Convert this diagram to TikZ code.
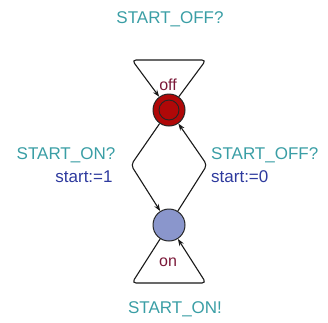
\documentclass[tikz,border=0pt]{standalone}
\usepackage{fontspec}
\setmainfont{Liberation Sans}
\usetikzlibrary{arrows.meta}
\definecolor{synccol}{HTML}{3A9EA5}
\definecolor{asgcol}{HTML}{2E3A9E}
\definecolor{namecol}{HTML}{7A1838}
\definecolor{offfill}{HTML}{B00808}
\definecolor{onfill}{HTML}{8A96CC}
\tikzset{
  loc/.style={circle, draw=black!85, line width=1pt, minimum size=32pt, inner sep=0pt},
  edge/.style={draw=black!90, line width=1.1pt, rounded corners=4pt, -{Stealth[length=7pt,width=5pt]}},
  sync/.style={text=synccol, font=\fontsize{17}{20}\selectfont, inner sep=0pt},
  asg/.style={text=asgcol, font=\fontsize{17}{20}\selectfont, inner sep=0pt},
  lname/.style={text=namecol, font=\fontsize{16}{19}\selectfont, inner sep=0pt},
}
\begin{document}
\begin{tikzpicture}[x=1pt,y=-1pt]
\useasboundingbox (0,0) rectangle (328,322);
\node[loc, fill=offfill] (off) at (169,110) {};
\draw[black!85, line width=0.9pt] (off.center) circle (10pt);
\node[loc, fill=onfill] (on) at (169,225) {};
% loop on off
\coordinate (otr) at (206,60);
\coordinate (otl) at (132,60);
\draw[edge] (off) -- (otr) -- (otl) -- (off);
% loop on on
\coordinate (nbl) at (132,283);
\coordinate (nbr) at (206,283);
\draw[edge] (on) -- (nbl) -- (nbr) -- (on);
% off -> on
\coordinate (lc) at (131,165);
\draw[edge] (off) -- (lc) -- (on);
% on -> off
\coordinate (rc) at (207,165);
\draw[edge] (on) -- (rc) -- (off);
% labels
\node[lname] (offname) at (168,85) {off};
\node[lname] (onname) at (168,262) {on};
\node[sync] (s1) at (170,19) {START\_OFF?};
\node[sync] (s2) at (175,309) {START\_ON!};
\node[sync] (s3) at (66,155) {START\_ON?};
\node[asg] (a3) at (84,177) {start:=1};
\node[sync, anchor=west] (s4) at (211,155) {START\_OFF?};
\node[asg, anchor=west] (a4) at (211,177) {start:=0};
\end{tikzpicture}
\end{document}
